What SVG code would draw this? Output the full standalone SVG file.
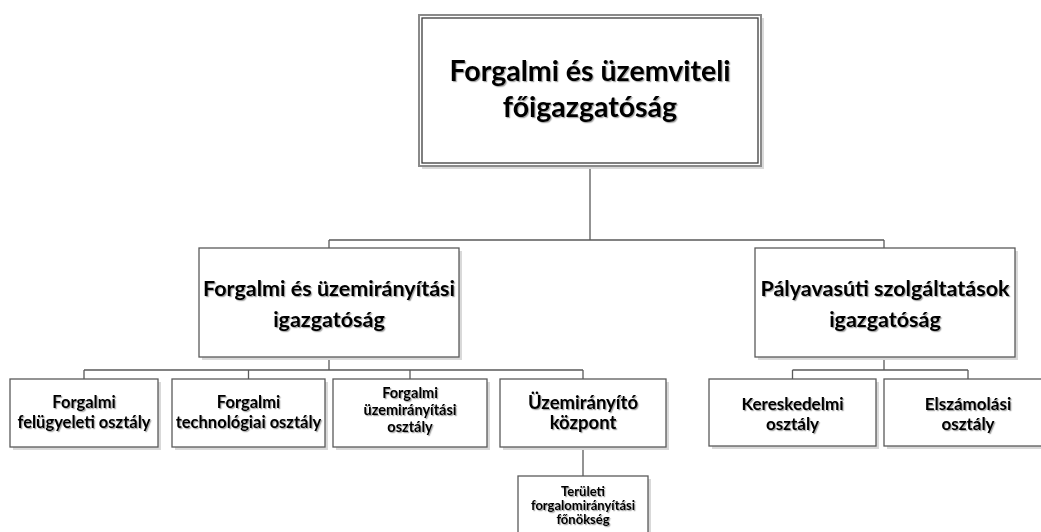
<svg xmlns="http://www.w3.org/2000/svg" width="1041" height="532" viewBox="0 0 1041 532">
<defs>
<filter id="ts" x="-5%" y="-20%" width="110%" height="150%">
<feDropShadow dx="1.2" dy="1.2" stdDeviation="0.7" flood-color="#000" flood-opacity="0.35"/>
</filter>
</defs>
<style>
.box{fill:#fff;stroke:#5a5a5a;stroke-width:1.3}
.sh{fill:#d9d9d9}
.t{font-family:Lato,"Liberation Sans",sans-serif;font-weight:bold;fill:#000;text-anchor:middle;filter:url(#ts)}
.c{fill:none;stroke:#5a5a5a;stroke-width:1.3}
</style>
<rect width="1041" height="532" fill="#fff"/>
<g id="connectors">
<path class="c" d="M590,166V240M329,240H884M329,240V248M884,240V248"/>
<path class="c" d="M329,357V370M84,370H583M84,370V379M248.5,370V379M410,370V379M583,370V379M583,447V476"/>
<path class="c" d="M884,357V370M792.5,370H968M792.5,370V379M968,370V379"/>
</g>
<g id="n0">
<rect class="sh" x="422" y="18" width="342" height="151"/>
<rect x="419" y="15" width="342" height="151" fill="#fff" stroke="#8a8a8a" stroke-width="2"/>
<rect x="422" y="18" width="336" height="145" fill="none" stroke="#3c3c3c" stroke-width="1.3"/>
<text class="t" x="590" y="81" font-size="28.5">Forgalmi és üzemviteli</text>
<text class="t" x="590" y="117" font-size="28.5">főigazgatóság</text>
</g>
<g id="n1">
<rect class="sh" x="202" y="251" width="260" height="109"/>
<rect class="box" x="199" y="248" width="260" height="109"/>
<text class="t" x="329" y="296" font-size="21.5">Forgalmi és üzemirányítási</text>
<text class="t" x="329" y="327" font-size="21.5">igazgatóság</text>
</g>
<g id="n2">
<rect class="sh" x="758" y="251" width="260" height="109"/>
<rect class="box" x="755" y="248" width="260" height="109"/>
<text class="t" x="885" y="296" font-size="21.5">Pályavasúti szolgáltatások</text>
<text class="t" x="885" y="327" font-size="21.5">igazgatóság</text>
</g>
<g id="n3">
<rect class="sh" x="13" y="382" width="148" height="68"/>
<rect class="box" x="10" y="379" width="148" height="68"/>
<text class="t" x="84" y="408" font-size="16.5">Forgalmi</text>
<text class="t" x="84" y="428" font-size="16.5">felügyeleti osztály</text>
</g>
<g id="n4">
<rect class="sh" x="175" y="382" width="153" height="68"/>
<rect class="box" x="172" y="379" width="153" height="68"/>
<text class="t" x="248.5" y="408" font-size="16.5">Forgalmi</text>
<text class="t" x="248.5" y="428" font-size="16.5">technológiai osztály</text>
</g>
<g id="n5">
<rect class="sh" x="336" y="382" width="154" height="68"/>
<rect class="box" x="333" y="379" width="154" height="68"/>
<text class="t" x="410" y="398" font-size="14.5">Forgalmi</text>
<text class="t" x="410" y="415" font-size="14.5">üzemirányítási</text>
<text class="t" x="410" y="432" font-size="14.5">osztály</text>
</g>
<g id="n6">
<rect class="sh" x="503" y="382" width="166" height="68"/>
<rect class="box" x="500" y="379" width="166" height="68"/>
<text class="t" x="583" y="409" font-size="18.5">Üzemirányító</text>
<text class="t" x="583" y="429" font-size="18.5">központ</text>
</g>
<g id="n7">
<rect class="sh" x="521" y="479" width="130" height="64"/>
<rect class="box" x="518" y="476" width="130" height="64"/>
<text class="t" x="583" y="496" font-size="13">Területi</text>
<text class="t" x="583" y="510" font-size="13">forgalomirányítási</text>
<text class="t" x="583" y="524" font-size="13">főnökség</text>
</g>
<g id="n8">
<rect class="sh" x="712" y="382" width="167" height="67"/>
<rect class="box" x="709" y="379" width="167" height="67"/>
<text class="t" x="792.5" y="410" font-size="17">Kereskedelmi</text>
<text class="t" x="792.5" y="430" font-size="17">osztály</text>
</g>
<g id="n9">
<rect class="sh" x="887" y="382" width="168" height="67"/>
<rect class="box" x="884" y="379" width="168" height="67"/>
<text class="t" x="968" y="410" font-size="17">Elszámolási</text>
<text class="t" x="968" y="430" font-size="17">osztály</text>
</g>
</svg>
